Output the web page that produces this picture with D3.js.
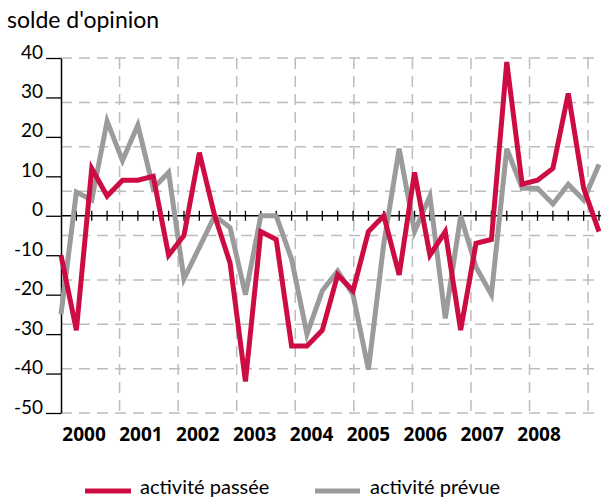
<!DOCTYPE html>
<html>
<head>
<meta charset="utf-8">
<script src="https://cdn.jsdelivr.net/npm/d3@7"></script>
<style>
  body { margin: 0; background: #fff; }
  svg { display: block; }
</style>
</head>
<body>
<svg id="chart" width="601" height="499"></svg>
<script>
// quarterly data 2000Q1 .. 2008Q4
const years = ['2000', '2001', '2002', '2003', '2004', '2005', '2006', '2007', '2008'];
const activitePassee = [
  -10, -29, 12, 5, 9, 9, 10, -10, -5, 16, 0, -12,
  -42, -4, -6, -33, -33, -29, -15, -19, -4, 0, -15, 11,
  -10, -4, -29, -7, -6, 39, 8, 9, 12, 31, 7, -4
];
const activitePrevue = [
  -25, 6, 4, 24, 14, 23, 7, 11, -16, -8, 0, -3,
  -20, 0, 0, -11, -30, -19, -14, -20, -39, -7, 17, -4,
  5, -26, 0, -13, -20, 17, 7, 7, 3, 8, 4, 13
];
const yTicks = [40, 30, 20, 10, 0, -10, -20, -30, -40, -50];
const seriesNames = ['activité passée', 'activité prévue'];

const red = '#cc0c43';
const grey = '#9b9b9b';

const svg = d3.select('svg#chart');

const x = d3.scaleLinear().domain([0, activitePassee.length - 1]).range([61, 599]);
const y = d3.scaleLinear().domain([-50, 40]).range([413, 58]);

// dashed grid (it does not follow the tick values in the original)
const hGrid = d3.range(9).map(i => 40 - i * 11.25);
const vGrid = d3.range(1, 10).map(i => i * 3.81);

const grid = svg.append('g')
  .attr('stroke', '#bdbdbd')
  .attr('stroke-width', 1.5)
  .attr('stroke-dasharray', '11,7');

grid.selectAll('line.h')
  .data(hGrid)
  .join('line')
  .attr('class', 'h')
  .attr('x1', x(0)).attr('x2', 601)
  .attr('y1', d => y(d)).attr('y2', d => y(d));

grid.selectAll('line.v')
  .data(vGrid)
  .join('line')
  .attr('class', 'v')
  .attr('x1', d => x(d)).attr('x2', d => x(d))
  .attr('y1', y(40)).attr('y2', y(-50));

// y axis
const yAxis = svg.append('g')
  .attr('transform', 'translate(' + x(0) + ',0)')
  .call(d3.axisLeft(y).tickValues(yTicks).tickSize(15).tickPadding(3).tickSizeOuter(0));
yAxis.select('.domain').attr('stroke', '#000').attr('stroke-width', 1.5);
yAxis.selectAll('.tick line').attr('stroke', '#000').attr('stroke-width', 1.3);
yAxis.selectAll('.tick text')
  .attr('dy', '0')
  .attr('font-family', 'Lato, sans-serif')
  .attr('font-size', '19px')
  .attr('fill', '#000')
  .text(d => d);

// zero line with quarter ticks
const zero = svg.append('g').attr('transform', 'translate(0,' + y(0) + ')');
zero.call(d3.axisBottom(x).tickValues(d3.range(activitePassee.length)).tickSize(0).tickFormat(''))
  .select('.domain').attr('stroke', '#000').attr('stroke-width', 1.5);
zero.selectAll('line.q')
  .data(d3.range(1, activitePassee.length + 1))
  .join('line')
  .attr('class', 'q')
  .attr('x1', d => x(d)).attr('x2', d => x(d))
  .attr('y1', -5).attr('y2', 5)
  .attr('stroke', '#000')
  .attr('stroke-width', 1.3);
zero.select('.domain').attr('d', 'M' + x(0) + ',0H601');

// year labels
svg.append('g')
  .selectAll('text')
  .data(years)
  .join('text')
  .attr('x', (d, i) => x(1.5 + i * 3.7))
  .attr('y', 441)
  .attr('text-anchor', 'middle')
  .attr('font-family', '"Open Sans", sans-serif')
  .attr('font-weight', 'bold')
  .attr('font-size', '19px')
  .attr('fill', '#000')
  .text(d => d);

// title
svg.append('text')
  .attr('x', 7)
  .attr('y', 28)
  .attr('font-family', 'Lato, sans-serif')
  .attr('font-size', '23px')
  .attr('fill', '#000')
  .text("solde d'opinion");

// lines
const line = d3.line()
  .x((d, i) => x(i))
  .y(d => y(d));

svg.append('path')
  .datum(activitePrevue)
  .attr('d', line)
  .attr('fill', 'none')
  .attr('stroke', grey)
  .attr('stroke-width', 5)
  .attr('stroke-linejoin', 'miter');

svg.append('path')
  .datum(activitePassee)
  .attr('d', line)
  .attr('fill', 'none')
  .attr('stroke', red)
  .attr('stroke-width', 5)
  .attr('stroke-linejoin', 'miter');

// legend
const legend = svg.append('g');
const legendItems = legend.selectAll('g')
  .data(seriesNames)
  .join('g')
  .attr('transform', (d, i) => 'translate(' + [85, 315][i] + ',491)');
legendItems.append('line')
  .attr('x1', 0).attr('x2', (d, i) => [46, 45][i])
  .attr('stroke', (d, i) => [red, grey][i])
  .attr('stroke-width', 5);
legendItems.append('text')
  .attr('x', 55)
  .attr('y', 3)
  .attr('font-family', 'Lato, sans-serif')
  .attr('font-size', '20px')
  .attr('fill', '#000')
  .text(d => d);
</script>
</body>
</html>
